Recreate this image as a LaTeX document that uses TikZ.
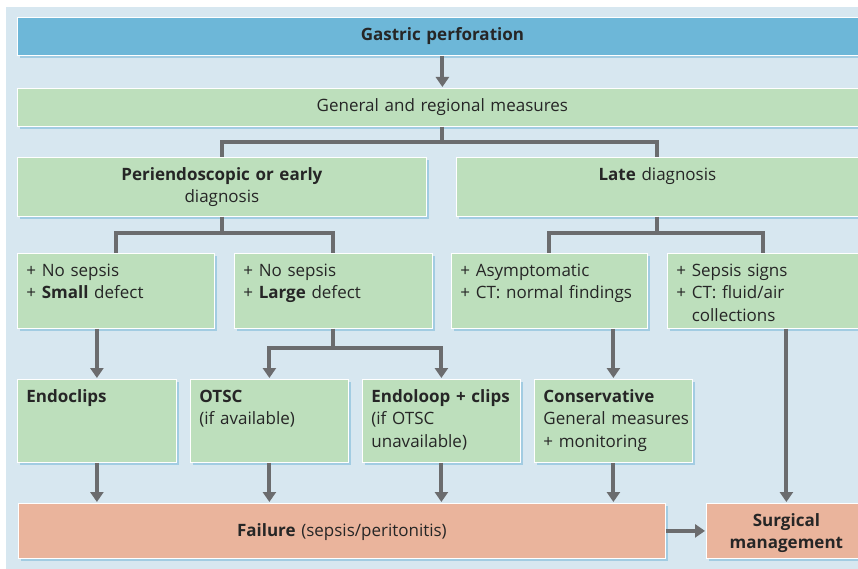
\documentclass[tikz,border=0pt]{standalone}
\usepackage{fontspec}
\setmainfont{Open Sans}
\usetikzlibrary{arrows.meta,shadows}
\definecolor{bgblue}{HTML}{D7E7F0}
\definecolor{headblue}{HTML}{6DB7D8}
\definecolor{boxgreen}{HTML}{BDDFBC}
\definecolor{boxsalmon}{HTML}{EAB49C}
\definecolor{linegray}{HTML}{6B6C6E}
\definecolor{shadowblue}{HTML}{6FB3D6}
\tikzset{
  box/.style={draw=white,line width=0.8pt,anchor=north west,inner xsep=9pt,inner ysep=10pt,
    text height=13pt,text=black!85,font=\fontsize{17pt}{22.5pt}\selectfont,
    drop shadow={shadow xshift=2.5pt,shadow yshift=-3pt,fill=shadowblue}},
  boxsize/.style 2 args={text width={#1-18},text depth={#2-33}},
  headbox/.style={box,fill=headblue,align=center},
  greenbox/.style={box,fill=boxgreen,align=left},
  midbox/.style={box,fill=boxgreen,align=center},
  redbox/.style={box,fill=boxsalmon,align=center},
  line/.style={draw=linegray,line width=4pt},
  arrow/.style={line,-{Triangle[width=13pt,length=10pt]},shorten >=1pt}
}
\begin{document}
\begin{tikzpicture}[x=1pt,y=-1pt]
\useasboundingbox(0,0)rectangle(858,569);
\fill[bgblue](6,7)rectangle(858,569);
\node[headbox,boxsize={850}{38}](TITLE)at(17,17){\textbf{Gastric perforation}};
\node[midbox,boxsize={850}{38}](GENERAL)at(17,88){General and regional measures};
\node[midbox,boxsize={409}{59}](EARLY)at(17,157){\textbf{Periendoscopic or early}\\diagnosis};
\node[midbox,boxsize={402}{59}](LATE)at(456,157){\textbf{Late} diagnosis};
\node[greenbox,boxsize={197}{75}](NOSMALL)at(17,253){+ No sepsis\\+ \textbf{Small} defect};
\node[greenbox,boxsize={198}{75}](NOLARGE)at(234,253){+ No sepsis\\+ \textbf{Large} defect};
\node[greenbox,boxsize={196}{75}](ASYMPT)at(451,253){+ Asymptomatic\\\mbox{+ CT: normal findings}};
\node[greenbox,boxsize={191}{75}](SEPSIS)at(667,253){+ Sepsis signs\\+ CT: fluid/air\\\hphantom{+ }collections};
\node[greenbox,boxsize={159}{83}](ENDOCLIPS)at(17,379){\textbf{Endoclips}};
\node[greenbox,boxsize={158}{83}](OTSC)at(190,379){\textbf{OTSC}\\\mbox{(if available)}};
\node[greenbox,boxsize={158}{83}](ENDOLOOP)at(362,379){\textbf{\mbox{Endoloop + clips}}\\(if OTSC\\unavailable)};
\node[greenbox,boxsize={158}{83}](CONSERV)at(534,379){\textbf{Conservative}\\\mbox{General measures}\\\mbox{+ monitoring}};
\node[redbox,text width=629pt,text height=23pt,text depth=12pt](FAILURE)at(18,503){\textbf{Failure} (sepsis/peritonitis)};
\node[redbox,boxsize={160}{55}](SURGERY)at(706,503){\textbf{Surgical}\\\textbf{management}};
\draw[arrow](TITLE.south)--(GENERAL.north);
\draw[line](GENERAL.south)--++(0,15)-|(EARLY.north);
\draw[line](GENERAL.south)--++(0,15)-|(LATE.north);
\draw[line](EARLY.south)--++(0,16)-|(NOSMALL.north);
\draw[line](EARLY.south)--++(0,16)-|(NOLARGE.north);
\draw[line](LATE.south)--++(0,16)-|(ASYMPT.north);
\draw[line](LATE.south)--++(0,16)-|(SEPSIS.north);
\draw[arrow](ENDOCLIPS.north|-NOSMALL.south)--(ENDOCLIPS.north);
\draw[arrow](NOLARGE.south)--++(0,19)-|(OTSC.north);
\draw[arrow](NOLARGE.south)--++(0,19)-|(ENDOLOOP.north);
\draw[arrow](CONSERV.north|-ASYMPT.south)--(CONSERV.north);
\draw[arrow](SURGERY.north|-SEPSIS.south)--(SURGERY.north);
\draw[arrow](ENDOCLIPS.south)--(ENDOCLIPS.south|-FAILURE.north);
\draw[arrow](OTSC.south)--(OTSC.south|-FAILURE.north);
\draw[arrow](ENDOLOOP.south)--(ENDOLOOP.south|-FAILURE.north);
\draw[arrow](CONSERV.south)--(CONSERV.south|-FAILURE.north);
\draw[arrow](FAILURE.east)--(SURGERY.west);
\end{tikzpicture}
\end{document}
